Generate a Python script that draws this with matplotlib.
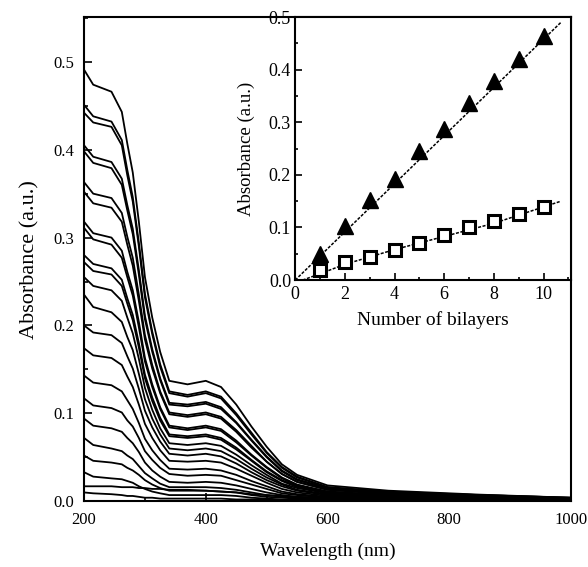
import matplotlib
matplotlib.use("Agg")
import matplotlib.pyplot as plt
from matplotlib.ticker import MultipleLocator

plt.rcParams['font.family'] = ['Liberation Serif', 'DejaVu Serif']

wavelength = [200, 215, 245, 262, 271, 280, 290, 300, 312, 325, 340, 370,
              400, 425, 450, 475, 500, 525, 550, 600, 700, 850, 1000]

# absorbance spectra, one row per deposition step
spectra = [
    [.491, .474, .466, .443, .407, .374, .318, .255, .209, .170, .137, .133, .137, .130, .110, .085, .062, .042, .030, .018, .012, .0075, .004],
    [.451, .438, .432, .411, .377, .346, .294, .236, .193, .156, .125, .121, .125, .119, .100, .078, .056, .039, .028, .016, .011, .007, .004],
    [.442, .431, .426, .405, .371, .341, .290, .232, .190, .153, .123, .119, .123, .117, .098, .076, .055, .038, .027, .016, .010, .007, .004],
    [.405, .392, .386, .367, .337, .310, .263, .211, .173, .140, .112, .110, .113, .107, .090, .070, .051, .035, .025, .015, .010, .006, .003],
    [.398, .385, .379, .360, .331, .304, .258, .207, .170, .138, .110, .108, .111, .105, .089, .069, .050, .034, .024, .014, .009, .006, .003],
    [.363, .350, .345, .328, .301, .277, .235, .189, .155, .125, .101, .098, .101, .096, .081, .063, .045, .031, .022, .013, .009, .006, .003],
    [.352, .339, .334, .318, .292, .268, .228, .184, .151, .123, .099, .096, .099, .094, .079, .061, .045, .031, .022, .013, .008, .005, .003],
    [.318, .305, .300, .285, .261, .240, .204, .163, .133, .107, .086, .083, .086, .082, .069, .053, .039, .027, .019, .011, .007, .005, .003],
    [.311, .298, .292, .277, .255, .234, .198, .159, .130, .105, .084, .081, .084, .080, .067, .052, .038, .026, .018, .011, .007, .005, .003],
    [.280, .270, .265, .252, .231, .212, .180, .144, .118, .095, .076, .074, .076, .072, .061, .047, .034, .024, .017, .010, .006, .004, .002],
    [.272, .262, .258, .245, .225, .206, .175, .140, .114, .092, .074, .072, .074, .070, .059, .046, .033, .023, .016, .010, .006, .004, .002],
    [.255, .245, .240, .228, .209, .191, .162, .129, .104, .083, .066, .064, .066, .063, .053, .041, .030, .020, .015, .009, .006, .004, .002],
    [.235, .221, .215, .204, .187, .172, .145, .116, .094, .076, .060, .058, .060, .057, .048, .037, .027, .019, .013, .008, .005, .003, .002],
    [.200, .192, .189, .180, .165, .151, .128, .103, .084, .068, .054, .052, .054, .051, .043, .033, .024, .017, .012, .007, .005, .003, .002],
    [.174, .166, .163, .155, .142, .130, .110, .088, .072, .058, .046, .045, .046, .044, .037, .029, .021, .014, .010, .006, .004, .003, .001],
    [.143, .135, .132, .125, .115, .105, .089, .071, .058, .047, .037, .036, .037, .035, .030, .023, .017, .011, .008, .005, .003, .002, .001],
    [.117, .109, .106, .101, .092, .085, .072, .057, .047, .038, .031, .029, .030, .029, .024, .019, .014, .009, .007, .004, .003, .002, .001],
    [.094, .086, .083, .079, .072, .066, .056, .044, .035, .028, .022, .021, .022, .021, .018, .014, .010, .007, .005, .003, .002, .001, .001],
    [.072, .064, .060, .057, .052, .048, .040, .032, .026, .020, .016, .016, .016, .015, .013, .010, .007, .005, .004, .002, .001, .001, .001],
    [.052, .046, .044, .042, .038, .035, .030, .024, .019, .015, .012, .012, .012, .011, .010, .007, .005, .004, .003, .002, .001, .001, .000],
    [.033, .028, .026, .025, .023, .021, .017, .014, .011, .009, .007, .007, .007, .007, .006, .004, .003, .002, .002, .001, .001, .000, .000],
    [.017, .017, .017, .016, .016, .016, .015, .015, .014, .014, .013, .013, .012, .011, .010, .008, .007, .006, .005, .004, .003, .002, .002],
    [.010, .009, .008, .007, .006, .006, .005, .004, .004, .003, .003, .003, .003, .003, .002, .002, .002, .001, .001, .001, .001, .000, .000],
]

# inset: absorbance vs number of bilayers
bilayers = [1, 2, 3, 4, 5, 6, 7, 8, 9, 10]
abs_uv = [0.050, 0.103, 0.153, 0.192, 0.245, 0.287, 0.337, 0.378, 0.420, 0.463]
abs_vis = [0.020, 0.034, 0.043, 0.058, 0.071, 0.085, 0.100, 0.112, 0.126, 0.138]
fit_uv_x = [0.0, 10.7]
fit_uv_y = [0.0, 0.490]
fit_vis_x = [0.3, 1.0, 2.0, 4.0, 6.0, 8.0, 10.7]
fit_vis_y = [0.0, 0.012, 0.030, 0.058, 0.083, 0.108, 0.150]

fig = plt.figure(figsize=(5.88, 5.67), dpi=100)
ax = fig.add_axes([0.143, 0.116, 0.828, 0.854])

for row in spectra:
    ax.plot(wavelength, row, color='black', lw=1.3)

ax.set_xlim(200, 1000)
ax.set_ylim(0, 0.551)
ax.xaxis.set_major_locator(MultipleLocator(200))
ax.xaxis.set_minor_locator(MultipleLocator(100))
ax.yaxis.set_major_locator(MultipleLocator(0.1))
ax.yaxis.set_minor_locator(MultipleLocator(0.05))
ax.tick_params(which='both', direction='in', labelsize=12, width=1.2)
ax.tick_params(which='major', length=6)
ax.tick_params(which='minor', length=3)
ax.tick_params(axis='x', pad=8)
ax.tick_params(axis='y', pad=7)
ax.xaxis.set_major_formatter(plt.FuncFormatter(lambda v, p: f"{v:.0f}"))
ax.yaxis.set_major_formatter(plt.FuncFormatter(lambda v, p: f"{v:.1f}"))
for s in ax.spines.values():
    s.set_linewidth(1.5)
ax.set_xlabel('Wavelength (nm)', fontsize=14, labelpad=10)
ax.set_ylabel('Absorbance (a.u.)', fontsize=16, labelpad=10)

ins = fig.add_axes([0.502, 0.506, 0.469, 0.464])
ins.plot(fit_uv_x, fit_uv_y, color='black', ls=(0, (2, 1)), lw=1.1)
ins.plot(fit_vis_x, fit_vis_y, color='black', ls=(0, (2, 1)), lw=1.1)
ins.plot(bilayers, abs_uv, ls='none', marker='^', ms=12, color='black')
ins.plot(bilayers, abs_vis, ls='none', marker='s', ms=8, mfc='white',
         mec='black', mew=2.2)
ins.set_xlim(0, 11.1)
ins.set_ylim(0, 0.5)
ins.xaxis.set_major_locator(MultipleLocator(2))
ins.xaxis.set_minor_locator(MultipleLocator(1))
ins.yaxis.set_major_locator(MultipleLocator(0.1))
ins.yaxis.set_minor_locator(MultipleLocator(0.05))
ins.tick_params(which='both', direction='in', labelsize=13, width=1.2)
ins.tick_params(which='major', length=5)
ins.tick_params(which='minor', length=2.5)
ins.tick_params(axis='x', pad=4)
ins.tick_params(axis='y', pad=3)
ins.yaxis.set_major_formatter(plt.FuncFormatter(lambda v, p: f"{v:.1f}"))
for s in ins.spines.values():
    s.set_linewidth(1.5)
ins.set_xlabel('Number of bilayers', fontsize=14, labelpad=6)
ins.set_ylabel('Absorbance (a.u.)', fontsize=13.5, labelpad=10)

fig.savefig('out.png', dpi=100)
